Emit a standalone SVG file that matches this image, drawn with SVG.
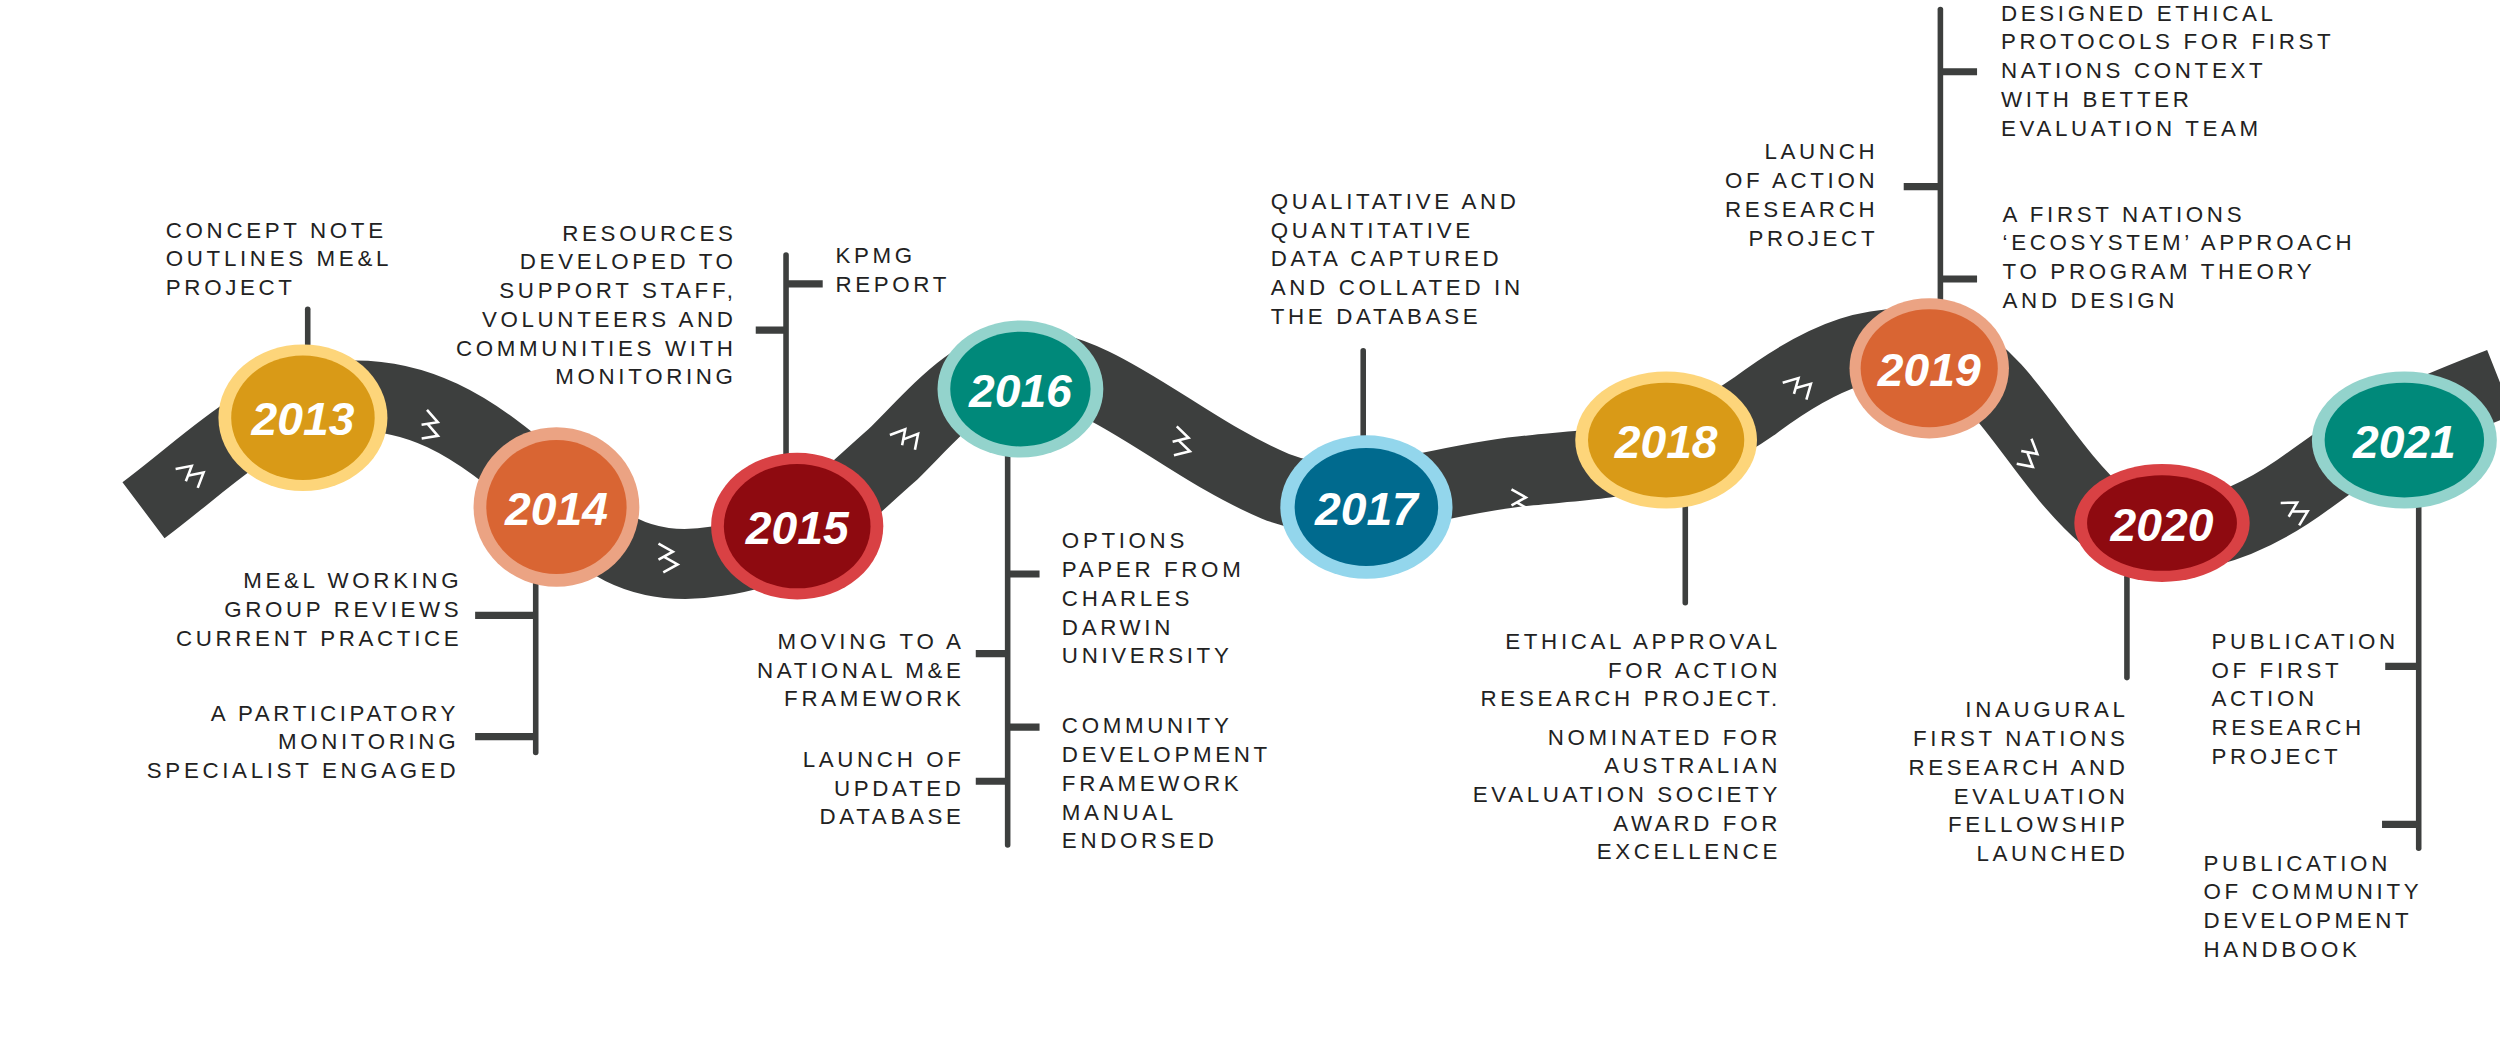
<svg xmlns="http://www.w3.org/2000/svg" width="2500" height="1048" viewBox="0 0 2500 1048">
<style>
.t{font-family:"Liberation Sans",Arial,sans-serif;font-size:14px;letter-spacing:2.3px;fill:#222}
.r{text-anchor:end}
.y{font-family:"Liberation Sans",Arial,sans-serif;font-size:29px;font-weight:bold;font-style:italic;fill:#fff;text-anchor:middle}
.ln{stroke:#3d3f3e;stroke-width:3.5;fill:none;stroke-linecap:round}
.tk{stroke:#3d3f3e;stroke-width:4.5;fill:none}
.ar{stroke:#fff;stroke-width:1.6;fill:none}
</style>
<defs>
<g id="chev"><path class="ar" d="M-7,-7 L2,-2 L-7,3 M-4,1 L5,6 L-4,11"/></g>
</defs>
<rect width="2500" height="1048" fill="#fff"/>
<g transform="scale(1.5944)">
<g id="road">
<path d="M90,320 C130,290 160,258 200,250 C260,240 300,270 340,305 C375,340 400,360 450,352 C500,345 520,320 560,285 C590,255 610,230 640,228 C690,228 740,280 800,305 C850,325 900,300 960,295 C1010,290 1050,290 1100,255 C1140,225 1180,205 1225,222 C1260,240 1280,290 1320,325 C1360,350 1410,330 1450,300 C1490,270 1530,255 1568,240" stroke="#3d3f3e" stroke-width="44" fill="none"/>
<use href="#chev" transform="translate(120,295) rotate(-40)"/>
<use href="#chev" transform="translate(272,266) rotate(20)"/>
<use href="#chev" transform="translate(420,348)"/>
<use href="#chev" transform="translate(568,272) rotate(-50)"/>
<use href="#chev" transform="translate(743,276) rotate(15)"/>
<use href="#chev" transform="translate(955,314)"/>
<use href="#chev" transform="translate(1128,240) rotate(-45)"/>
<use href="#chev" transform="translate(1275,285) rotate(40)"/>
<use href="#chev" transform="translate(1440,318) rotate(-30)"/>
</g>
<g id="connectors">
<path class="ln" d="M193,194 V224"/>
<path class="ln" d="M493,160 V300"/><path class="tk" d="M493,178 H516 M493,207 H474"/>
<path class="ln" d="M336,350 V472"/><path class="tk" d="M336,386 H298 M336,462 H298"/>
<path class="ln" d="M632,282 V530"/><path class="tk" d="M632,360 H652 M632,410 H612 M632,456 H652 M632,490 H612"/>
<path class="ln" d="M855,220 V276"/>
<path class="ln" d="M1057,312 V378"/>
<path class="ln" d="M1217,6 V196"/><path class="tk" d="M1217,45 H1240 M1217,117 H1194 M1217,175 H1240"/>
<path class="ln" d="M1334,362 V425"/>
<path class="ln" d="M1517,316 V532"/><path class="tk" d="M1517,418 H1496 M1517,517 H1494"/>
</g>
<g id="n2013"><ellipse cx="190" cy="262" rx="53" ry="46" fill="#fdd57a"/><ellipse cx="190" cy="262" rx="45" ry="39" fill="#d99a17"/><text class="y" x="190" y="273">2013</text></g>
<g id="n2014"><ellipse cx="349" cy="318" rx="52" ry="50" fill="#eba383"/><ellipse cx="349" cy="318" rx="44" ry="42" fill="#d96533"/><text class="y" x="349" y="329">2014</text></g>
<g id="n2015"><ellipse cx="500" cy="330" rx="54" ry="46" fill="#d94144"/><ellipse cx="500" cy="330" rx="46" ry="39" fill="#8e0a10"/><text class="y" x="500" y="341">2015</text></g>
<g id="n2016"><ellipse cx="640" cy="244" rx="52" ry="43" fill="#93d3cc"/><ellipse cx="640" cy="244" rx="44" ry="36" fill="#00897a"/><text class="y" x="640" y="255">2016</text></g>
<g id="n2017"><ellipse cx="857" cy="318" rx="54" ry="45" fill="#93d6ec"/><ellipse cx="857" cy="318" rx="45" ry="37" fill="#006a8e"/><text class="y" x="857" y="329">2017</text></g>
<g id="n2018"><ellipse cx="1045" cy="276" rx="57" ry="43" fill="#fdd57a"/><ellipse cx="1045" cy="276" rx="49" ry="36" fill="#d99a17"/><text class="y" x="1045" y="287">2018</text></g>
<g id="n2019"><ellipse cx="1210" cy="231" rx="50" ry="44" fill="#eba383"/><ellipse cx="1210" cy="231" rx="43" ry="37" fill="#d96533"/><text class="y" x="1210" y="242">2019</text></g>
<g id="n2020"><ellipse cx="1356" cy="328" rx="55" ry="37" fill="#d94144"/><ellipse cx="1356" cy="328" rx="47" ry="30" fill="#8e0a10"/><text class="y" x="1356" y="339">2020</text></g>
<g id="n2021"><ellipse cx="1508" cy="276" rx="58" ry="43" fill="#93d3cc"/><ellipse cx="1508" cy="276" rx="50" ry="36" fill="#00897a"/><text class="y" x="1508" y="287">2021</text></g>
<g id="labels">
<text class="t" x="104" y="149">CONCEPT NOTE</text><text class="t" x="104" y="167">OUTLINES ME&amp;L</text><text class="t" x="104" y="185">PROJECT</text>
<text class="t r" x="462" y="151">RESOURCES</text><text class="t r" x="462" y="169">DEVELOPED TO</text><text class="t r" x="462" y="187">SUPPORT STAFF,</text><text class="t r" x="462" y="205">VOLUNTEERS AND</text><text class="t r" x="462" y="223">COMMUNITIES WITH</text><text class="t r" x="462" y="241">MONITORING</text>
<text class="t" x="524" y="165">KPMG</text><text class="t" x="524" y="183">REPORT</text>
<text class="t r" x="290" y="369">ME&amp;L WORKING</text><text class="t r" x="290" y="387">GROUP REVIEWS</text><text class="t r" x="290" y="405">CURRENT PRACTICE</text>
<text class="t r" x="288" y="452">A PARTICIPATORY</text><text class="t r" x="288" y="470">MONITORING</text><text class="t r" x="288" y="488">SPECIALIST ENGAGED</text>
<text class="t r" x="605" y="407">MOVING TO A</text><text class="t r" x="605" y="425">NATIONAL M&amp;E</text><text class="t r" x="605" y="443">FRAMEWORK</text>
<text class="t r" x="605" y="481">LAUNCH OF</text><text class="t r" x="605" y="499">UPDATED</text><text class="t r" x="605" y="517">DATABASE</text>
<text class="t" x="666" y="344">OPTIONS</text><text class="t" x="666" y="362">PAPER FROM</text><text class="t" x="666" y="380">CHARLES</text><text class="t" x="666" y="398">DARWIN</text><text class="t" x="666" y="416">UNIVERSITY</text>
<text class="t" x="666" y="460">COMMUNITY</text><text class="t" x="666" y="478">DEVELOPMENT</text><text class="t" x="666" y="496">FRAMEWORK</text><text class="t" x="666" y="514">MANUAL</text><text class="t" x="666" y="532">ENDORSED</text>
<text class="t" x="797" y="131">QUALITATIVE AND</text><text class="t" x="797" y="149">QUANTITATIVE</text><text class="t" x="797" y="167">DATA CAPTURED</text><text class="t" x="797" y="185">AND COLLATED IN</text><text class="t" x="797" y="203">THE DATABASE</text>
<text class="t r" x="1117" y="407">ETHICAL APPROVAL</text><text class="t r" x="1117" y="425">FOR ACTION</text><text class="t r" x="1117" y="443">RESEARCH PROJECT.</text>
<text class="t r" x="1117" y="467">NOMINATED FOR</text><text class="t r" x="1117" y="485">AUSTRALIAN</text><text class="t r" x="1117" y="503">EVALUATION SOCIETY</text><text class="t r" x="1117" y="521">AWARD FOR</text><text class="t r" x="1117" y="539">EXCELLENCE</text>
<text class="t r" x="1178" y="100">LAUNCH</text><text class="t r" x="1178" y="118">OF ACTION</text><text class="t r" x="1178" y="136">RESEARCH</text><text class="t r" x="1178" y="154">PROJECT</text>
<text class="t" x="1255" y="13">DESIGNED ETHICAL</text><text class="t" x="1255" y="31">PROTOCOLS FOR FIRST</text><text class="t" x="1255" y="49">NATIONS CONTEXT</text><text class="t" x="1255" y="67">WITH BETTER</text><text class="t" x="1255" y="85">EVALUATION TEAM</text>
<text class="t" x="1256" y="139">A FIRST NATIONS</text><text class="t" x="1256" y="157">‘ECOSYSTEM’ APPROACH</text><text class="t" x="1256" y="175">TO PROGRAM THEORY</text><text class="t" x="1256" y="193">AND DESIGN</text>
<text class="t r" x="1335" y="450">INAUGURAL</text><text class="t r" x="1335" y="468">FIRST NATIONS</text><text class="t r" x="1335" y="486">RESEARCH AND</text><text class="t r" x="1335" y="504">EVALUATION</text><text class="t r" x="1335" y="522">FELLOWSHIP</text><text class="t r" x="1335" y="540">LAUNCHED</text>
<text class="t" x="1387" y="407">PUBLICATION</text><text class="t" x="1387" y="425">OF FIRST</text><text class="t" x="1387" y="443">ACTION</text><text class="t" x="1387" y="461">RESEARCH</text><text class="t" x="1387" y="479">PROJECT</text>
<text class="t" x="1382" y="546">PUBLICATION</text><text class="t" x="1382" y="564">OF COMMUNITY</text><text class="t" x="1382" y="582">DEVELOPMENT</text><text class="t" x="1382" y="600">HANDBOOK</text>
</g>
</g>
</svg>
